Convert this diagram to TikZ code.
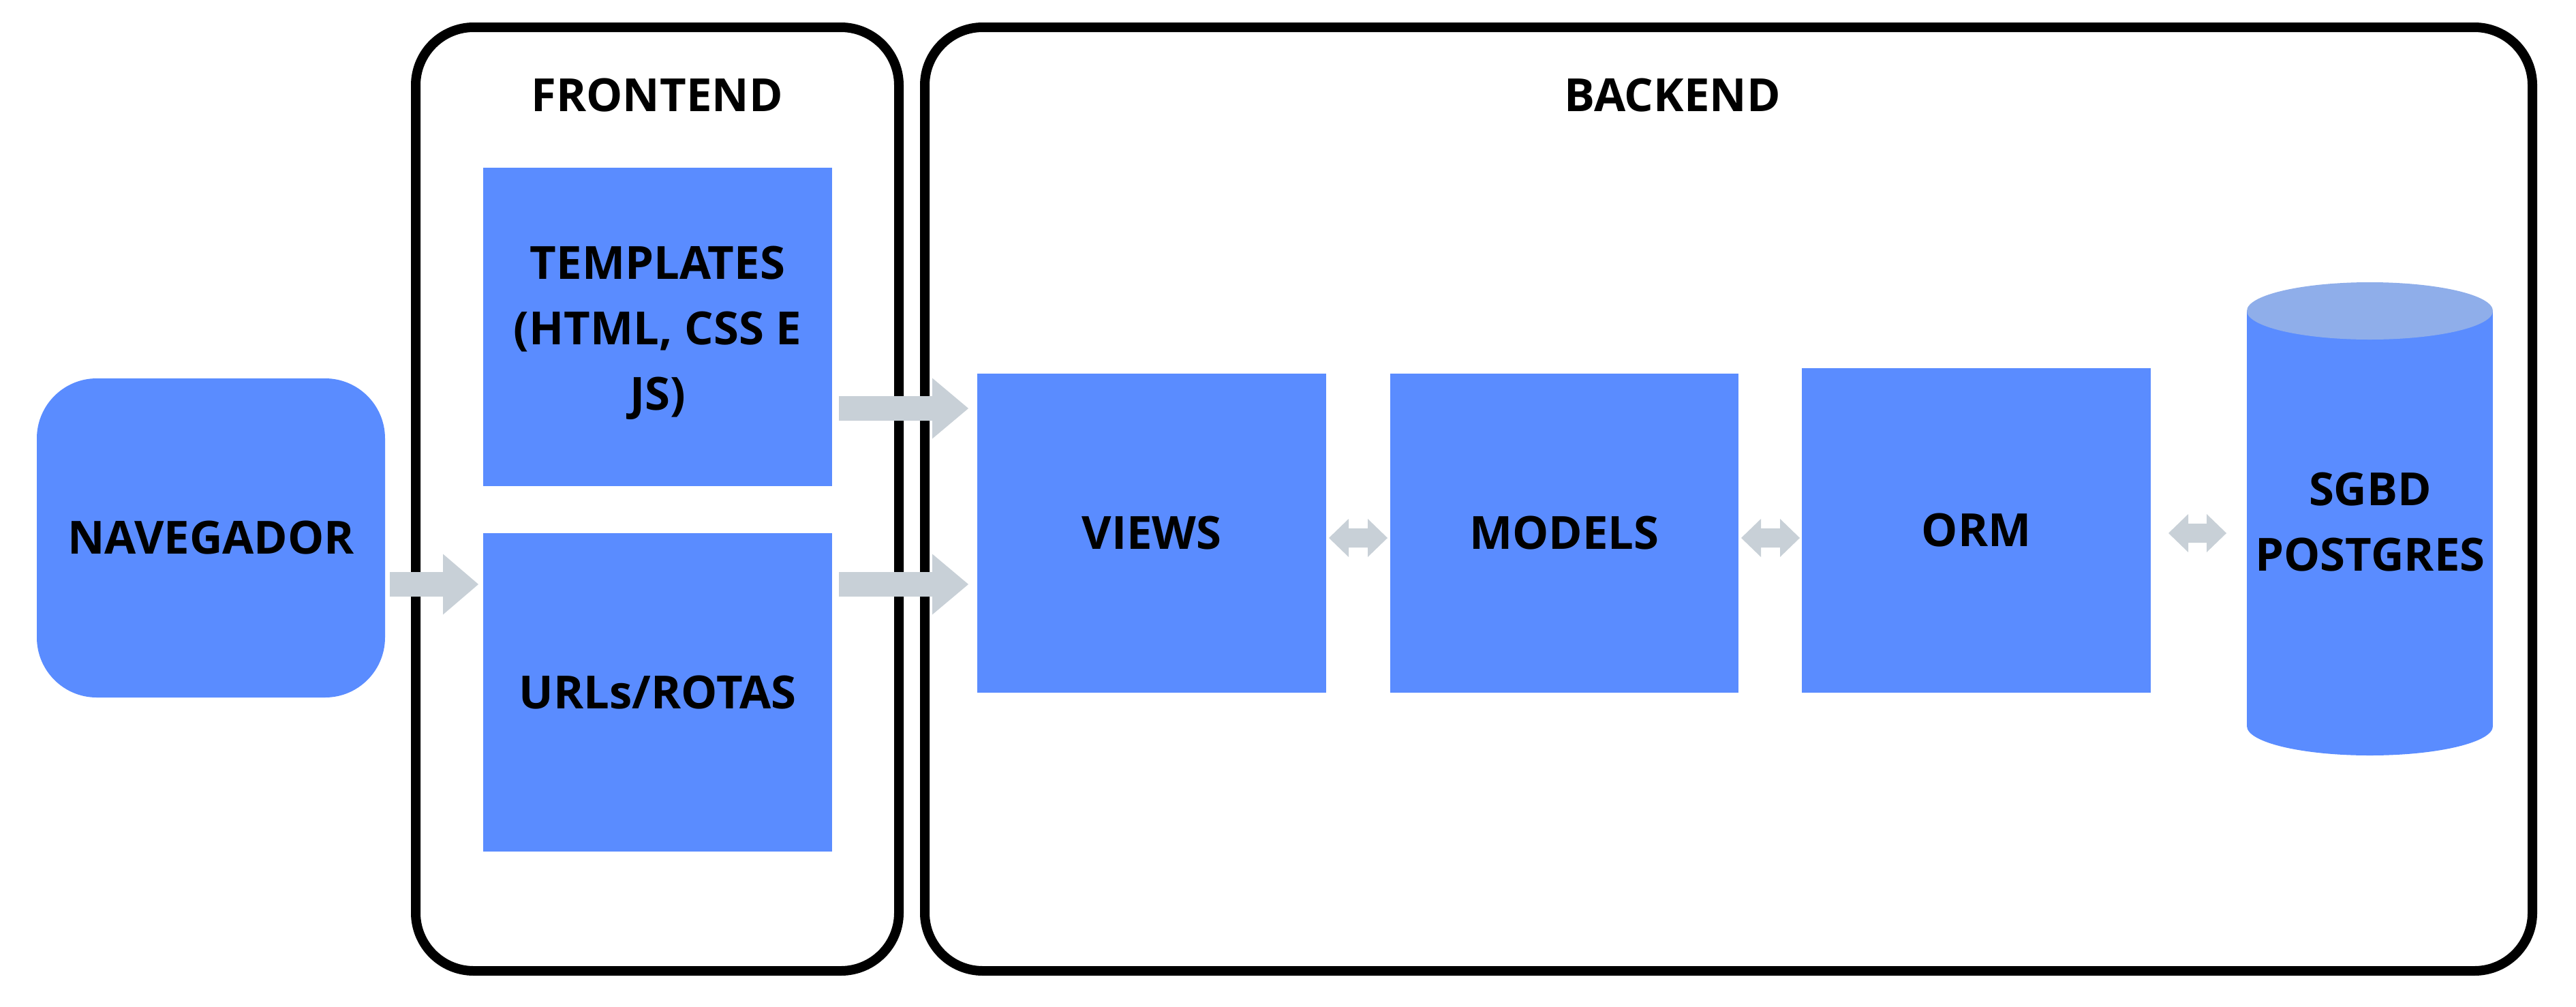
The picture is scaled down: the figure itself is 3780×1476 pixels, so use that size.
\documentclass[tikz,border=0pt]{standalone}
\usepackage{fontspec}
\setmainfont{Open Sans}
\usetikzlibrary{calc}
\definecolor{boxblue}{RGB}{90,140,255}
\definecolor{topblue}{RGB}{143,174,234}
\definecolor{arrowgray}{RGB}{200,208,215}
\newcommand\rightblockarrow[4]{% start x, head base x, tip x, center y
  \fill[arrowgray] (#1,#4-18) -- (#2,#4-18) -- (#2,#4-44.5) -- (#3,#4) -- (#2,#4+44.5) -- (#2,#4+18) -- (#1,#4+18) -- cycle;}
\newcommand\twoheadblockarrow[3]{% left tip x, right tip x, center y
  \fill[arrowgray] (#1,#3) -- (#1+29,#3-28) -- (#1+29,#3-14) -- (#2-29,#3-14) -- (#2-29,#3-28) -- (#2,#3) -- (#2-29,#3+28) -- (#2-29,#3+14) -- (#1+29,#3+14) -- (#1+29,#3+28) -- cycle;}
\begin{document}
\begin{tikzpicture}[x=1pt,y=-1pt,
  lbl/.style={font=\fontsize{67}{96}\selectfont\bfseries, align=center, text=black},
  bluebox/.style={fill=boxblue, draw=none, inner sep=0pt, lbl},
  container/.style={draw=black, line width=14pt, rounded corners=85pt}]
\useasboundingbox (0,0) rectangle (3780,1476);
\fill[white] (0,0) rectangle (3780,1476);

% containers
\draw[container] (610,40) rectangle (1319,1424);
\draw[container] (1357,40) rectangle (3716,1424);
\node[lbl, anchor=base] (fronttitle) at (964,163) {FRONTEND};
\node[lbl, anchor=base] (backtitle) at (2454,163) {BACKEND};

% navegador
\node[bluebox, rounded corners=88pt, minimum width=511, minimum height=468] (nav) at (309.5,789) {NAVEGADOR};

% frontend boxes
\node[bluebox, minimum width=512, minimum height=467] (templates) at (965,479.5) {};
\node[lbl, inner sep=0pt, yshift=-9pt] (templatestext) at (templates.center) {TEMPLATES\\(HTML, CSS E\\JS)};
\node[bluebox, minimum width=512, minimum height=467] (urls) at (965,1015.5) {URLs/ROTAS};

% backend boxes
\node[bluebox, minimum width=512, minimum height=468] (views) at (1690,782) {VIEWS};
\node[bluebox, minimum width=511, minimum height=468] (models) at (2295.5,782) {MODELS};
\node[bluebox, minimum width=512, minimum height=476] (orm) at (2900,778) {ORM};

% database cylinder
\fill[boxblue] (3297,456) rectangle (3658,1065);
\fill[boxblue] (3477.5,1065) ellipse [x radius=180.5, y radius=43];
\fill[topblue] (3477.5,456) ellipse [x radius=180.5, y radius=42];
\node[lbl, inner sep=0pt] (db) at (3478,766) {SGBD\\POSTGRES};

% arrows
\rightblockarrow{572}{650}{702}{857}
\rightblockarrow{1231}{1368}{1421}{599}
\rightblockarrow{1231}{1368}{1421}{857}
\twoheadblockarrow{1950}{2036}{789}
\twoheadblockarrow{2555}{2641}{789}
\twoheadblockarrow{3182}{3267}{782}
\end{tikzpicture}
\end{document}
